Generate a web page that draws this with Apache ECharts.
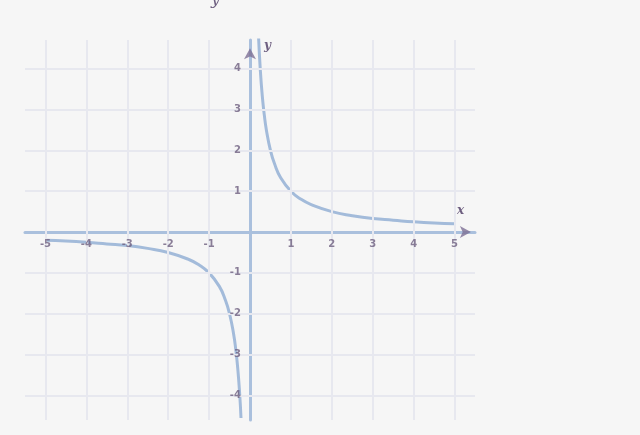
<!DOCTYPE html>
<html>
<head>
<meta charset="utf-8">
<script src="https://cdn.jsdelivr.net/npm/echarts@6/dist/echarts.min.js"></script>
<style>
html,body{margin:0;padding:0;background:#f6f6f6;}
#c{width:640px;height:435px;}
</style>
</head>
<body>
<div id="c"></div>
<script>
// Tick labels
var xTicks = [-5, -4, -3, -2, -1, 1, 2, 3, 4, 5];
var yTicks = [-4, -3, -2, -1, 1, 2, 3, 4];
var gridX = [-5, -4, -3, -2, -1, 1, 2, 3, 4, 5];
var gridY = [-4, -3, -2, -1, 1, 2, 3, 4];
// Right branch
var rightX = [0.21, 0.25, 0.3, 0.35, 0.4, 0.5, 0.6, 0.75, 1, 1.25, 1.5, 2, 2.5, 3, 3.5, 4, 4.5, 5];
var rightY = [4.76, 4.0, 3.33, 2.86, 2.5, 2.0, 1.67, 1.33, 1.0, 0.8, 0.67, 0.5, 0.4, 0.33, 0.29, 0.25, 0.22, 0.2];
// Left branch
var leftX = [-5, -4.5, -4, -3.5, -3, -2.5, -2, -1.5, -1.25, -1, -0.75, -0.6, -0.5, -0.4, -0.35, -0.3, -0.25, -0.22];
var leftY = [-0.2, -0.22, -0.25, -0.29, -0.33, -0.4, -0.5, -0.67, -0.8, -1.0, -1.33, -1.67, -2.0, -2.5, -2.86, -3.33, -4.0, -4.55];
// Axis arrow heads (axis ends)
var xArrow = [5.4, 0];
var yArrow = [0, 4.5];

function pairs(xs, ys){ return xs.map(function(v,i){ return [v, ys[i]]; }); }

var axisCol = '#aac0dd';
var labelCol = '#6e5f80';
var gridCol = '#e7e8ef';
var curveCol = '#a3bbda';

var chart = echarts.init(document.getElementById('c'), null, {renderer:'canvas'});
chart.setOption({
  backgroundColor: '#f6f6f6',
  animation: false,
  grid: {left: 25, right: 165, top: 40, bottom: 15},
  xAxis: {
    type: 'value', min: -5.5, max: 5.5,
    axisLine: {onZero: true, lineStyle: {color: axisCol, width: 3}},
    axisTick: {show: false},
    splitLine: {show: false},
    axisLabel: {show: false}
  },
  yAxis: {
    type: 'value', min: -4.6, max: 4.7,
    axisLine: {onZero: true, lineStyle: {color: axisCol, width: 3}},
    axisTick: {show: false},
    splitLine: {show: false},
    axisLabel: {show: false}
  },
  series: [
    {
      type: 'line', data: [], silent: true,
      markLine: {
        silent: true, symbol: 'none', label: {show: false},
        lineStyle: {color: gridCol, width: 2, type: 'solid'},
        data: gridX.map(function(v){ return {xAxis: v}; }).concat(gridY.map(function(v){ return {yAxis: v}; }))
      },
      z: 1
    },
    {
      type: 'line', data: pairs(rightX, rightY), smooth: true, showSymbol: false,
      lineStyle: {color: curveCol, width: 3}, clip: true, z: 3
    },
    {
      type: 'line', data: pairs(leftX, leftY), smooth: true, showSymbol: false,
      lineStyle: {color: curveCol, width: 3}, clip: true, z: 3
    },
    {
      type: 'scatter', symbolSize: 0.1, silent: true, z: 5,
      data: xTicks.map(function(v){ return [v, 0]; }),
      label: {show: true, position: 'bottom', distance: 7, color: labelCol, fontSize: 10, fontWeight: 'bold', fontFamily: 'DejaVu Sans',
        formatter: function(p){ return String(p.value[0]); }}
    },
    {
      type: 'scatter', symbolSize: 0.1, silent: true, z: 5,
      data: yTicks.map(function(v){ return [0, v]; }),
      label: {show: true, position: 'left', distance: 9, color: labelCol, fontSize: 10, fontWeight: 'bold', fontFamily: 'DejaVu Sans',
        formatter: function(p){ return String(p.value[1]); }}
    },
    {
      type: 'scatter', silent: true, z: 6, symbol: 'arrow', symbolSize: [9, 11], symbolRotate: -90,
      itemStyle: {color: '#7d6f95'}, data: [xArrow]
    },
    {
      type: 'scatter', silent: true, z: 6, symbol: 'arrow', symbolSize: [9, 11], symbolRotate: 0,
      itemStyle: {color: '#7d6f95'}, data: [yArrow]
    }
  ],
  graphic: [
    {type: 'text', left: 457, top: 205, style: {text: 'x', fill: labelCol, font: 'italic bold 12px DejaVu Serif'}},
    {type: 'text', left: 264, top: 40, style: {text: 'y', fill: labelCol, font: 'italic bold 12px DejaVu Serif'}},
    {type: 'text', left: 211, top: -8, style: {text: 'y', fill: labelCol, font: 'italic 16px DejaVu Serif'}}
  ]
});
</script>
</body>
</html>
